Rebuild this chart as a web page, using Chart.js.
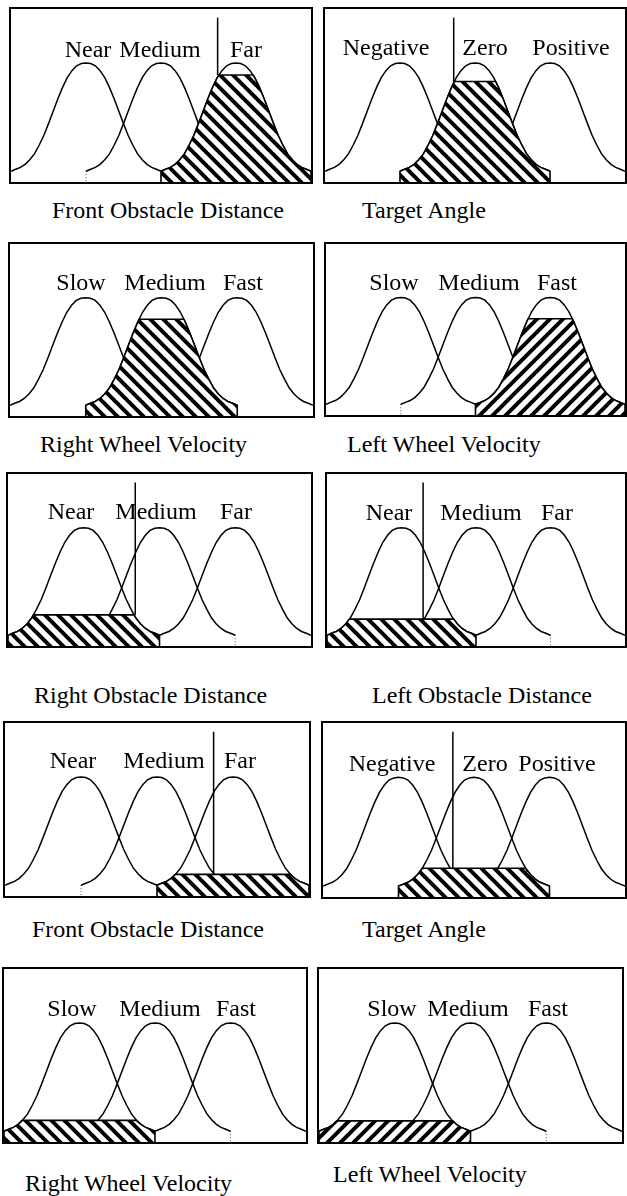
<!DOCTYPE html>
<html>
<head>
<meta charset="utf-8">
<script src="https://cdn.jsdelivr.net/npm/chart.js"></script>
<style>
  body { margin: 0; background: #fff; }
  #page { position: relative; width: 627px; height: 1196px; overflow: hidden;
          font-family: 'Liberation Serif', 'Times New Roman', serif; color: #000; }
  .frame { position: absolute; border: 2px solid #000; box-sizing: border-box; }
  .frame canvas { display: block; }
  .txt { position: absolute; font-size: 24px; line-height: 24px; white-space: nowrap; }
  .term { transform: translateX(-50%); }
</style>
</head>
<body>
<div id="page"></div>
<script>
// data
const captions = ['Front Obstacle Distance', 'Target Angle', 'Right Wheel Velocity', 'Left Wheel Velocity',
  'Right Obstacle Distance', 'Left Obstacle Distance', 'Front Obstacle Distance', 'Target Angle',
  'Right Wheel Velocity', 'Left Wheel Velocity'];
const termNames = [
  ['Near', 'Medium', 'Far'], ['Negative', 'Zero', 'Positive'],
  ['Slow', 'Medium', 'Fast'], ['Slow', 'Medium', 'Fast'],
  ['Near', 'Medium', 'Far'], ['Near', 'Medium', 'Far'],
  ['Near', 'Medium', 'Far'], ['Negative', 'Zero', 'Positive'],
  ['Slow', 'Medium', 'Fast'], ['Slow', 'Medium', 'Fast']];
const termCenters = [1, 2, 3];
// membership shape (offset from centre, degree)
const bellOffsets = [-1, -0.9375, -0.875, -0.8125, -0.75, -0.6875, -0.625, -0.5625, -0.5, -0.4375, -0.375,
  -0.3125, -0.25, -0.1875, -0.125, -0.0625, 0, 0.0625, 0.125, 0.1875, 0.25, 0.3125, 0.375, 0.4375, 0.5,
  0.5625, 0.625, 0.6875, 0.75, 0.8125, 0.875, 0.9375, 1];
const bellValues = [0, 0.018, 0.035, 0.063, 0.105, 0.16, 0.24, 0.33, 0.44, 0.555, 0.67, 0.775, 0.865, 0.93,
  0.975, 0.995, 1, 0.995, 0.975, 0.93, 0.865, 0.775, 0.67, 0.555, 0.44, 0.33, 0.24, 0.16, 0.105, 0.063,
  0.035, 0.018, 0];
const firedTerm = [2, 1, 1, 2, 0, 0, 2, 1, 0, 0];
const firingLevel = [0.89, 0.83, 0.80, 0.80, 0.19, 0.15, 0.10, 0.165, 0.10, 0.095];
const crispInput = [2.755, 1.716, null, null, 1.68, 1.29, 2.745, 1.72, null, null];
const inputTop = 1.42;

// layout
const frameBoxes = [[10, 8, 312, 183], [324, 8, 626, 183], [9, 243, 314, 417], [325, 243, 626, 416],
  [7, 473, 312, 647], [326, 473, 626, 647], [4, 722, 310, 897], [322, 722, 626, 898],
  [3, 968, 307, 1143], [318, 968, 623, 1143]];
const labelX = [[88, 160, 246], [386, 485, 571], [81, 165, 243], [394, 479, 557], [71, 156, 236],
  [389, 481, 557], [73, 164, 240], [392, 485, 557], [72, 160, 236], [392, 468, 548]];
const labelBase = [57, 55, 290, 290, 519, 520, 768, 771, 1016, 1016];
const captionPos = [[52, 218], [362, 218], [40, 452], [347, 452], [34, 703], [372, 703], [32, 937],
  [362, 937], [25, 1191], [333, 1182]];
const stripeDir = ['\\', '\\', '\\', '/', '\\', '\\', '\\', '\\', '\\', '/'];

const page = document.getElementById('page');

function addText(str, x, base, cls) {
  const d = document.createElement('div');
  d.className = 'txt ' + cls;
  d.textContent = str;
  d.style.left = x + 'px';
  d.style.top = (base - 20) + 'px';
  page.appendChild(d);
}

function stripes(dir) {
  const s = 13;
  const c = document.createElement('canvas');
  c.width = c.height = s;
  const g = c.getContext('2d');
  g.fillStyle = '#fff';
  g.fillRect(0, 0, s, s);
  g.strokeStyle = '#000';
  g.lineWidth = 4;
  g.beginPath();
  [-s, 0, s].forEach(k => {
    if (dir === '/') { g.moveTo(k - 1, s + 1); g.lineTo(k + s + 1, -1); }
    else { g.moveTo(k - 1, -1); g.lineTo(k + s + 1, s + 1); }
  });
  g.stroke();
  return g.createPattern(c, 'repeat');
}

function curve(center) {
  return bellOffsets.map((o, i) => ({ x: center + o, y: bellValues[i] }));
}

// membership curve cut at the firing level, closed down to the axis
function clippedCurve(center, level) {
  const pts = [{ x: center + bellOffsets[0], y: -0.1 }];
  bellOffsets.forEach((o, i) => {
    const y = bellValues[i];
    if (i > 0) {
      const y0 = bellValues[i - 1];
      if ((y0 - level) * (y - level) < 0) {
        const t = (level - y0) / (y - y0);
        pts.push({ x: center + bellOffsets[i - 1] + t * (o - bellOffsets[i - 1]), y: level });
      }
    }
    pts.push({ x: center + o, y: Math.min(y, level) });
  });
  pts.push({ x: center + bellOffsets[bellOffsets.length - 1], y: -0.1 });
  return pts;
}

captions.forEach((cap, p) => {
  const [l, t, r, b] = frameBoxes[p];
  const frame = document.createElement('div');
  frame.className = 'frame';
  frame.style.left = (l - 1) + 'px';
  frame.style.top = (t - 1) + 'px';
  frame.style.width = (r - l + 2) + 'px';
  frame.style.height = (b - t + 2) + 'px';
  const cv = document.createElement('canvas');
  cv.width = r - l - 2;
  cv.height = b - t - 2;
  frame.appendChild(cv);
  page.appendChild(frame);

  const datasets = [];
  if (crispInput[p] !== null) {
    datasets.push({ data: [{ x: crispInput[p], y: inputTop }, { x: crispInput[p], y: firingLevel[p] }],
      borderColor: '#000', borderWidth: 1.5, order: 0 });
  }
  datasets.push({ data: clippedCurve(termCenters[firedTerm[p]], firingLevel[p]),
    borderColor: '#000', borderWidth: 1.6, fill: 'start', backgroundColor: stripes(stripeDir[p]), order: 1 });
  termCenters.forEach(c => {
    datasets.push({ data: curve(c), borderColor: '#000', borderWidth: 1.5, order: 2 });
  });
  [termCenters[1] - 1, termCenters[1] + 1].forEach(x => {
    datasets.push({ data: [{ x: x, y: 0 }, { x: x, y: -0.1 }], borderColor: '#555', borderWidth: 1,
      borderDash: [1, 2], order: 3 });
  });

  new Chart(cv, {
    type: 'line',
    data: { datasets },
    options: {
      responsive: false,
      animation: false,
      events: [],
      layout: { padding: 0 },
      scales: {
        x: { type: 'linear', min: 0, max: 4, display: false },
        y: { min: -0.1, max: 1.5, display: false }
      },
      plugins: { legend: { display: false }, tooltip: { enabled: false } },
      elements: { point: { radius: 0 }, line: { tension: 0 } }
    }
  });

  termNames[p].forEach((name, k) => addText(name, labelX[p][k], labelBase[p], 'term'));
  addText(cap, captionPos[p][0], captionPos[p][1], 'caption');
});
</script>
</body>
</html>
